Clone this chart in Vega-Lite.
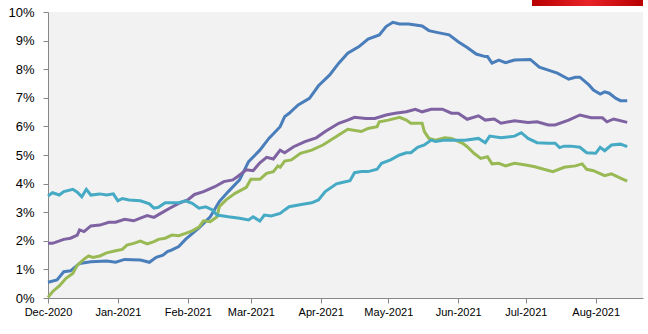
{
  "$schema": "https://vega.github.io/schema/vega-lite/v6.json",
  "width": 595,
  "height": 286,
  "autosize": {"type": "none"},
  "padding": {"left": 48, "top": 12, "right": 5, "bottom": 36},
  "background": "white",
  "config": {"view": {"fill": "#f2f2f2", "stroke": null}},
  "data": {"values": [
    {"s":"blue","d":"2020-12-01","v":0.55},{"s":"blue","d":"2020-12-05","v":0.63},{"s":"blue","d":"2020-12-08","v":0.92},{"s":"blue","d":"2020-12-11","v":0.95},{"s":"blue","d":"2020-12-15","v":1.21},{"s":"blue","d":"2020-12-20","v":1.27},{"s":"blue","d":"2020-12-27","v":1.29},{"s":"blue","d":"2020-12-31","v":1.25},{"s":"blue","d":"2021-01-04","v":1.35},{"s":"blue","d":"2021-01-11","v":1.33},{"s":"blue","d":"2021-01-15","v":1.25},{"s":"blue","d":"2021-01-18","v":1.42},{"s":"blue","d":"2021-01-21","v":1.5},{"s":"blue","d":"2021-01-23","v":1.62},{"s":"blue","d":"2021-01-25","v":1.68},{"s":"blue","d":"2021-01-28","v":1.8},{"s":"blue","d":"2021-01-31","v":2.05},{"s":"blue","d":"2021-02-03","v":2.25},{"s":"blue","d":"2021-02-06","v":2.45},{"s":"blue","d":"2021-02-11","v":2.84},{"s":"blue","d":"2021-02-15","v":3.37},{"s":"blue","d":"2021-02-19","v":3.72},{"s":"blue","d":"2021-02-24","v":4.13},{"s":"blue","d":"2021-02-28","v":4.77},{"s":"blue","d":"2021-03-05","v":5.17},{"s":"blue","d":"2021-03-09","v":5.58},{"s":"blue","d":"2021-03-14","v":5.99},{"s":"blue","d":"2021-03-16","v":6.34},{"s":"blue","d":"2021-03-18","v":6.46},{"s":"blue","d":"2021-03-22","v":6.75},{"s":"blue","d":"2021-03-27","v":6.98},{"s":"blue","d":"2021-03-31","v":7.42},{"s":"blue","d":"2021-04-05","v":7.8},{"s":"blue","d":"2021-04-09","v":8.21},{"s":"blue","d":"2021-04-13","v":8.56},{"s":"blue","d":"2021-04-18","v":8.79},{"s":"blue","d":"2021-04-22","v":9.05},{"s":"blue","d":"2021-04-27","v":9.2},{"s":"blue","d":"2021-04-30","v":9.49},{"s":"blue","d":"2021-05-03","v":9.64},{"s":"blue","d":"2021-05-06","v":9.58},{"s":"blue","d":"2021-05-10","v":9.58},{"s":"blue","d":"2021-05-16","v":9.51},{"s":"blue","d":"2021-05-19","v":9.35},{"s":"blue","d":"2021-05-23","v":9.28},{"s":"blue","d":"2021-05-28","v":9.2},{"s":"blue","d":"2021-06-01","v":8.96},{"s":"blue","d":"2021-06-05","v":8.76},{"s":"blue","d":"2021-06-09","v":8.53},{"s":"blue","d":"2021-06-13","v":8.44},{"s":"blue","d":"2021-06-14","v":8.44},{"s":"blue","d":"2021-06-16","v":8.21},{"s":"blue","d":"2021-06-19","v":8.32},{"s":"blue","d":"2021-06-22","v":8.23},{"s":"blue","d":"2021-06-26","v":8.32},{"s":"blue","d":"2021-07-03","v":8.34},{"s":"blue","d":"2021-07-07","v":8.07},{"s":"blue","d":"2021-07-11","v":7.97},{"s":"blue","d":"2021-07-15","v":7.86},{"s":"blue","d":"2021-07-20","v":7.65},{"s":"blue","d":"2021-07-23","v":7.72},{"s":"blue","d":"2021-07-25","v":7.72},{"s":"blue","d":"2021-07-29","v":7.45},{"s":"blue","d":"2021-07-31","v":7.27},{"s":"blue","d":"2021-08-03","v":7.13},{"s":"blue","d":"2021-08-05","v":7.21},{"s":"blue","d":"2021-08-07","v":7.16},{"s":"blue","d":"2021-08-10","v":6.98},{"s":"blue","d":"2021-08-12","v":6.9},{"s":"blue","d":"2021-08-15","v":6.9},
    {"s":"purple","d":"2020-12-01","v":1.91},{"s":"purple","d":"2020-12-03","v":1.91},{"s":"purple","d":"2020-12-08","v":2.05},{"s":"purple","d":"2020-12-11","v":2.09},{"s":"purple","d":"2020-12-14","v":2.2},{"s":"purple","d":"2020-12-15","v":2.38},{"s":"purple","d":"2020-12-17","v":2.32},{"s":"purple","d":"2020-12-20","v":2.52},{"s":"purple","d":"2020-12-24","v":2.55},{"s":"purple","d":"2020-12-28","v":2.65},{"s":"purple","d":"2020-12-31","v":2.65},{"s":"purple","d":"2021-01-04","v":2.75},{"s":"purple","d":"2021-01-08","v":2.7},{"s":"purple","d":"2021-01-11","v":2.79},{"s":"purple","d":"2021-01-14","v":2.88},{"s":"purple","d":"2021-01-17","v":2.82},{"s":"purple","d":"2021-01-20","v":2.96},{"s":"purple","d":"2021-01-24","v":3.14},{"s":"purple","d":"2021-01-28","v":3.31},{"s":"purple","d":"2021-02-01","v":3.43},{"s":"purple","d":"2021-02-04","v":3.62},{"s":"purple","d":"2021-02-08","v":3.72},{"s":"purple","d":"2021-02-13","v":3.89},{"s":"purple","d":"2021-02-17","v":4.07},{"s":"purple","d":"2021-02-21","v":4.13},{"s":"purple","d":"2021-02-23","v":4.24},{"s":"purple","d":"2021-02-27","v":4.48},{"s":"purple","d":"2021-03-02","v":4.45},{"s":"purple","d":"2021-03-05","v":4.73},{"s":"purple","d":"2021-03-08","v":4.92},{"s":"purple","d":"2021-03-11","v":4.86},{"s":"purple","d":"2021-03-14","v":5.17},{"s":"purple","d":"2021-03-16","v":5.08},{"s":"purple","d":"2021-03-20","v":5.29},{"s":"purple","d":"2021-03-25","v":5.47},{"s":"purple","d":"2021-03-30","v":5.6},{"s":"purple","d":"2021-04-03","v":5.82},{"s":"purple","d":"2021-04-09","v":6.11},{"s":"purple","d":"2021-04-13","v":6.22},{"s":"purple","d":"2021-04-16","v":6.32},{"s":"purple","d":"2021-04-21","v":6.28},{"s":"purple","d":"2021-04-25","v":6.28},{"s":"purple","d":"2021-04-30","v":6.4},{"s":"purple","d":"2021-05-04","v":6.46},{"s":"purple","d":"2021-05-09","v":6.51},{"s":"purple","d":"2021-05-13","v":6.6},{"s":"purple","d":"2021-05-16","v":6.51},{"s":"purple","d":"2021-05-20","v":6.6},{"s":"purple","d":"2021-05-25","v":6.6},{"s":"purple","d":"2021-05-29","v":6.46},{"s":"purple","d":"2021-06-01","v":6.46},{"s":"purple","d":"2021-06-05","v":6.25},{"s":"purple","d":"2021-06-10","v":6.37},{"s":"purple","d":"2021-06-13","v":6.22},{"s":"purple","d":"2021-06-17","v":6.26},{"s":"purple","d":"2021-06-20","v":6.11},{"s":"purple","d":"2021-06-26","v":6.2},{"s":"purple","d":"2021-07-02","v":6.14},{"s":"purple","d":"2021-07-06","v":6.16},{"s":"purple","d":"2021-07-11","v":6.05},{"s":"purple","d":"2021-07-14","v":6.05},{"s":"purple","d":"2021-07-20","v":6.22},{"s":"purple","d":"2021-07-25","v":6.4},{"s":"purple","d":"2021-07-30","v":6.3},{"s":"purple","d":"2021-08-04","v":6.3},{"s":"purple","d":"2021-08-06","v":6.16},{"s":"purple","d":"2021-08-09","v":6.26},{"s":"purple","d":"2021-08-15","v":6.14},
    {"s":"green","d":"2020-12-01","v":0.02},{"s":"green","d":"2020-12-03","v":0.22},{"s":"green","d":"2020-12-06","v":0.42},{"s":"green","d":"2020-12-09","v":0.69},{"s":"green","d":"2020-12-12","v":0.86},{"s":"green","d":"2020-12-14","v":1.15},{"s":"green","d":"2020-12-17","v":1.36},{"s":"green","d":"2020-12-19","v":1.47},{"s":"green","d":"2020-12-21","v":1.42},{"s":"green","d":"2020-12-24","v":1.47},{"s":"green","d":"2020-12-27","v":1.58},{"s":"green","d":"2020-12-31","v":1.65},{"s":"green","d":"2021-01-03","v":1.7},{"s":"green","d":"2021-01-05","v":1.85},{"s":"green","d":"2021-01-08","v":1.91},{"s":"green","d":"2021-01-11","v":1.99},{"s":"green","d":"2021-01-14","v":1.89},{"s":"green","d":"2021-01-17","v":1.97},{"s":"green","d":"2021-01-19","v":2.05},{"s":"green","d":"2021-01-22","v":2.09},{"s":"green","d":"2021-01-25","v":2.2},{"s":"green","d":"2021-01-28","v":2.18},{"s":"green","d":"2021-01-31","v":2.26},{"s":"green","d":"2021-02-03","v":2.35},{"s":"green","d":"2021-02-06","v":2.48},{"s":"green","d":"2021-02-08","v":2.7},{"s":"green","d":"2021-02-11","v":2.67},{"s":"green","d":"2021-02-14","v":2.84},{"s":"green","d":"2021-02-15","v":3.19},{"s":"green","d":"2021-02-18","v":3.43},{"s":"green","d":"2021-02-22","v":3.66},{"s":"green","d":"2021-02-27","v":3.87},{"s":"green","d":"2021-03-01","v":4.15},{"s":"green","d":"2021-03-05","v":4.15},{"s":"green","d":"2021-03-08","v":4.36},{"s":"green","d":"2021-03-11","v":4.42},{"s":"green","d":"2021-03-13","v":4.62},{"s":"green","d":"2021-03-14","v":4.57},{"s":"green","d":"2021-03-16","v":4.79},{"s":"green","d":"2021-03-19","v":4.83},{"s":"green","d":"2021-03-23","v":5.06},{"s":"green","d":"2021-03-28","v":5.17},{"s":"green","d":"2021-04-02","v":5.35},{"s":"green","d":"2021-04-06","v":5.55},{"s":"green","d":"2021-04-09","v":5.7},{"s":"green","d":"2021-04-13","v":5.9},{"s":"green","d":"2021-04-19","v":5.82},{"s":"green","d":"2021-04-22","v":5.93},{"s":"green","d":"2021-04-26","v":5.99},{"s":"green","d":"2021-04-27","v":6.16},{"s":"green","d":"2021-05-01","v":6.22},{"s":"green","d":"2021-05-06","v":6.32},{"s":"green","d":"2021-05-09","v":6.22},{"s":"green","d":"2021-05-11","v":6.11},{"s":"green","d":"2021-05-16","v":6.11},{"s":"green","d":"2021-05-17","v":5.82},{"s":"green","d":"2021-05-19","v":5.58},{"s":"green","d":"2021-05-22","v":5.52},{"s":"green","d":"2021-05-26","v":5.6},{"s":"green","d":"2021-05-29","v":5.58},{"s":"green","d":"2021-06-03","v":5.41},{"s":"green","d":"2021-06-05","v":5.29},{"s":"green","d":"2021-06-08","v":5.06},{"s":"green","d":"2021-06-11","v":4.88},{"s":"green","d":"2021-06-14","v":4.94},{"s":"green","d":"2021-06-16","v":4.69},{"s":"green","d":"2021-06-19","v":4.71},{"s":"green","d":"2021-06-22","v":4.62},{"s":"green","d":"2021-06-26","v":4.71},{"s":"green","d":"2021-07-01","v":4.65},{"s":"green","d":"2021-07-05","v":4.59},{"s":"green","d":"2021-07-09","v":4.5},{"s":"green","d":"2021-07-13","v":4.42},{"s":"green","d":"2021-07-18","v":4.57},{"s":"green","d":"2021-07-23","v":4.62},{"s":"green","d":"2021-07-26","v":4.69},{"s":"green","d":"2021-07-28","v":4.5},{"s":"green","d":"2021-07-31","v":4.45},{"s":"green","d":"2021-08-05","v":4.28},{"s":"green","d":"2021-08-08","v":4.34},{"s":"green","d":"2021-08-12","v":4.19},{"s":"green","d":"2021-08-15","v":4.09},
    {"s":"teal","d":"2020-12-01","v":3.57},{"s":"teal","d":"2020-12-03","v":3.68},{"s":"teal","d":"2020-12-06","v":3.6},{"s":"teal","d":"2020-12-08","v":3.72},{"s":"teal","d":"2020-12-12","v":3.8},{"s":"teal","d":"2020-12-14","v":3.7},{"s":"teal","d":"2020-12-16","v":3.54},{"s":"teal","d":"2020-12-18","v":3.8},{"s":"teal","d":"2020-12-20","v":3.6},{"s":"teal","d":"2020-12-24","v":3.64},{"s":"teal","d":"2020-12-27","v":3.6},{"s":"teal","d":"2020-12-30","v":3.64},{"s":"teal","d":"2021-01-01","v":3.4},{"s":"teal","d":"2021-01-03","v":3.48},{"s":"teal","d":"2021-01-06","v":3.43},{"s":"teal","d":"2021-01-11","v":3.4},{"s":"teal","d":"2021-01-15","v":3.29},{"s":"teal","d":"2021-01-17","v":3.14},{"s":"teal","d":"2021-01-19","v":3.17},{"s":"teal","d":"2021-01-22","v":3.33},{"s":"teal","d":"2021-01-28","v":3.33},{"s":"teal","d":"2021-01-31","v":3.4},{"s":"teal","d":"2021-02-03","v":3.31},{"s":"teal","d":"2021-02-06","v":3.14},{"s":"teal","d":"2021-02-09","v":3.19},{"s":"teal","d":"2021-02-12","v":3.08},{"s":"teal","d":"2021-02-14","v":2.9},{"s":"teal","d":"2021-02-19","v":2.84},{"s":"teal","d":"2021-02-24","v":2.79},{"s":"teal","d":"2021-02-28","v":2.73},{"s":"teal","d":"2021-03-02","v":2.84},{"s":"teal","d":"2021-03-05","v":2.69},{"s":"teal","d":"2021-03-07","v":2.9},{"s":"teal","d":"2021-03-10","v":2.87},{"s":"teal","d":"2021-03-14","v":2.96},{"s":"teal","d":"2021-03-16","v":3.08},{"s":"teal","d":"2021-03-18","v":3.19},{"s":"teal","d":"2021-03-24","v":3.28},{"s":"teal","d":"2021-03-28","v":3.33},{"s":"teal","d":"2021-03-31","v":3.43},{"s":"teal","d":"2021-04-03","v":3.72},{"s":"teal","d":"2021-04-08","v":3.99},{"s":"teal","d":"2021-04-10","v":4.03},{"s":"teal","d":"2021-04-14","v":4.1},{"s":"teal","d":"2021-04-16","v":4.38},{"s":"teal","d":"2021-04-19","v":4.42},{"s":"teal","d":"2021-04-22","v":4.42},{"s":"teal","d":"2021-04-26","v":4.5},{"s":"teal","d":"2021-04-28","v":4.71},{"s":"teal","d":"2021-05-02","v":4.83},{"s":"teal","d":"2021-05-06","v":5.0},{"s":"teal","d":"2021-05-09","v":5.08},{"s":"teal","d":"2021-05-11","v":5.08},{"s":"teal","d":"2021-05-14","v":5.27},{"s":"teal","d":"2021-05-17","v":5.35},{"s":"teal","d":"2021-05-20","v":5.52},{"s":"teal","d":"2021-05-22","v":5.47},{"s":"teal","d":"2021-05-26","v":5.52},{"s":"teal","d":"2021-05-31","v":5.52},{"s":"teal","d":"2021-06-04","v":5.52},{"s":"teal","d":"2021-06-10","v":5.58},{"s":"teal","d":"2021-06-13","v":5.43},{"s":"teal","d":"2021-06-15","v":5.66},{"s":"teal","d":"2021-06-20","v":5.6},{"s":"teal","d":"2021-06-26","v":5.66},{"s":"teal","d":"2021-06-29","v":5.78},{"s":"teal","d":"2021-07-02","v":5.58},{"s":"teal","d":"2021-07-06","v":5.43},{"s":"teal","d":"2021-07-11","v":5.41},{"s":"teal","d":"2021-07-14","v":5.41},{"s":"teal","d":"2021-07-16","v":5.26},{"s":"teal","d":"2021-07-18","v":5.31},{"s":"teal","d":"2021-07-21","v":5.31},{"s":"teal","d":"2021-07-25","v":5.27},{"s":"teal","d":"2021-07-28","v":5.08},{"s":"teal","d":"2021-08-01","v":5.06},{"s":"teal","d":"2021-08-03","v":5.27},{"s":"teal","d":"2021-08-05","v":5.15},{"s":"teal","d":"2021-08-08","v":5.35},{"s":"teal","d":"2021-08-12","v":5.38},{"s":"teal","d":"2021-08-15","v":5.29}
  ]},
  "layer": [
    {
      "mark": {"type": "line", "strokeWidth": 3, "interpolate": "linear"},
      "encoding": {
        "x": {"field": "d", "type": "temporal",
          "scale": {"domain": [{"year": 2020, "month": 12, "date": 1}, {"year": 2021, "month": 8, "date": 22}]},
          "axis": {"title": null, "format": "%b-%Y", "tickCount": {"interval": "month", "step": 1},
            "grid": false, "domainColor": "#888888", "tickColor": "#888888", "tickSize": 5,
            "labelFont": "Liberation Sans", "labelFontSize": 11, "labelColor": "#000000", "labelPadding": 3, "labelFlush": false, "labelOverlap": false}},
        "y": {"field": "v", "type": "quantitative",
          "scale": {"domain": [0, 10], "nice": false},
          "axis": {"title": null, "values": [0,1,2,3,4,5,6,7,8,9,10], "labelExpr": "datum.value + '%'",
            "grid": false, "domainColor": "#888888", "tickColor": "#888888", "tickSize": 5, "labelOverlap": false, "labelFlush": false,
            "labelFont": "Liberation Sans", "labelFontSize": 13, "labelColor": "#000000", "labelPadding": 9}},
        "color": {"field": "s", "type": "nominal", "legend": null,
          "scale": {"domain": ["blue", "purple", "green", "teal"], "range": ["#4a7ebb", "#7f62a1", "#98b954", "#46aac5"]}},
        "order": {"field": "d", "type": "temporal"}
      }
    },
    {
      "mark": {"type": "rect", "clip": false,
        "color": {"gradient": "linear", "x1": 0, "x2": 1, "y1": 0, "y2": 0,
          "stops": [{"offset": 0, "color": "#b80000"}, {"offset": 0.5, "color": "#e8232a"}, {"offset": 1, "color": "#b80000"}]}},
      "encoding": {
        "x": {"datum": {"year": 2021, "month": 7, "date": 4}, "type": "temporal",
          "axis": {"title": null, "format": "%b-%Y", "tickCount": {"interval": "month", "step": 1},
            "grid": false, "domainColor": "#888888", "tickColor": "#888888", "tickSize": 5,
            "labelFont": "Liberation Sans", "labelFontSize": 11, "labelColor": "#000000", "labelPadding": 3, "labelFlush": false, "labelOverlap": false}},
        "x2": {"datum": {"year": 2021, "month": 8, "date": 22}},
        "y": {"datum": 10.21, "type": "quantitative",
          "axis": {"title": null, "values": [0,1,2,3,4,5,6,7,8,9,10], "labelExpr": "datum.value + '%'",
            "grid": false, "domainColor": "#888888", "tickColor": "#888888", "tickSize": 5, "labelOverlap": false, "labelFlush": false,
            "labelFont": "Liberation Sans", "labelFontSize": 13, "labelColor": "#000000", "labelPadding": 9}},
        "y2": {"datum": 10.45}
      }
    }
  ]
}
